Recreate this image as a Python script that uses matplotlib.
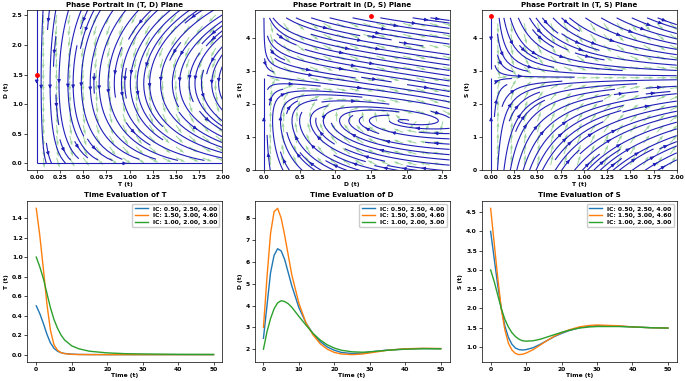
import matplotlib
matplotlib.use("Agg")
import matplotlib.pyplot as plt
import numpy as np

plt.rcParams["font.family"] = "DejaVu Sans"
plt.rcParams["font.weight"] = "bold"
plt.rcParams["axes.titleweight"] = "bold"
plt.rcParams["axes.labelweight"] = "bold"
plt.rcParams["font.size"] = 4.3
plt.rcParams["axes.linewidth"] = 0.5
plt.rcParams["xtick.major.width"] = 0.5
plt.rcParams["ytick.major.width"] = 0.5
plt.rcParams["xtick.major.size"] = 2
plt.rcParams["ytick.major.size"] = 2
plt.rcParams["xtick.major.pad"] = 1.5
plt.rcParams["ytick.major.pad"] = 1.5

# initial conditions (T0, D0, S0) and their legend labels
ic_labels = ["IC: 0.50, 2.50, 4.00", "IC: 1.50, 3.00, 4.60", "IC: 1.00, 2.00, 3.00"]
line_colors = ["#1f77b4", "#ff7f0e", "#2ca02c"]

# time series
t_T = [0, 1, 2, 3, 4, 5, 6, 7, 8, 10, 12, 15, 20, 25, 30, 40, 50]
T_blue = [0.5, 0.42, 0.32, 0.21, 0.12, 0.065, 0.035, 0.02, 0.012, 0.005, 0.002, 0.001, 0, 0, 0, 0, 0]
T_orange = [1.5, 1.22, 0.88, 0.52, 0.25, 0.1, 0.045, 0.02, 0.01, 0.003, 0.001, 0, 0, 0, 0, 0, 0]
T_green = [1.0, 0.9, 0.78, 0.63, 0.48, 0.36, 0.27, 0.2, 0.15, 0.09, 0.06, 0.035, 0.018, 0.01, 0.007, 0.003, 0.002]

t_D = [0, 1, 2, 3, 4, 5, 6, 7, 8, 10, 12, 14, 16, 18, 20, 22, 25, 28, 30, 35, 40, 45, 50]
D_blue = [2.5, 4.0, 5.5, 6.3, 6.6, 6.5, 6.1, 5.5, 4.9, 3.9, 3.2, 2.7, 2.35, 2.1, 1.95, 1.85, 1.8, 1.82, 1.87, 1.96, 2.01, 2.03, 2.02]
D_orange = [3.0, 5.3, 7.3, 8.3, 8.45, 8.0, 7.2, 6.3, 5.4, 4.1, 3.2, 2.65, 2.25, 2.0, 1.85, 1.78, 1.75, 1.78, 1.83, 1.95, 2.02, 2.04, 2.03]
D_green = [2.0, 2.8, 3.4, 3.85, 4.12, 4.22, 4.18, 4.08, 3.92, 3.5, 3.1, 2.72, 2.42, 2.2, 2.05, 1.95, 1.88, 1.86, 1.88, 1.95, 2.0, 2.02, 2.02]

t_S = [0, 1, 2, 3, 4, 5, 6, 7, 8, 9, 10, 12, 14, 16, 18, 20, 22, 25, 28, 30, 33, 36, 40, 45, 50]
S_blue = [4.0, 3.3, 2.6, 2.0, 1.55, 1.25, 1.07, 0.97, 0.93, 0.92, 0.93, 0.98, 1.07, 1.17, 1.27, 1.35, 1.42, 1.5, 1.54, 1.55, 1.55, 1.54, 1.52, 1.5, 1.49]
S_orange = [4.6, 3.7, 2.8, 2.0, 1.45, 1.1, 0.92, 0.83, 0.8, 0.81, 0.84, 0.93, 1.05, 1.17, 1.28, 1.37, 1.44, 1.52, 1.56, 1.57, 1.56, 1.55, 1.52, 1.5, 1.49]
S_green = [3.0, 2.7, 2.35, 2.0, 1.72, 1.52, 1.37, 1.27, 1.2, 1.16, 1.15, 1.16, 1.2, 1.26, 1.32, 1.38, 1.43, 1.49, 1.52, 1.53, 1.53, 1.53, 1.52, 1.5, 1.49]

# red marker in each phase plane
start_TD = (0.0, 1.5)
start_DS = (1.5, 4.65)
start_TS = (0.0, 4.65)


def td_field(T, D):
    return 0.35 * T * (1.35 - D), -0.6 * np.abs(D) ** 0.3


def ds_field(D, S):
    return 1.5 * D * (S - 1.5), 2.8 - S - 0.65 * D


def ts_field(T, S):
    return 0.9 * T, 2.8 - S


def phase(ax, field, xr, yr, start, title, xlabel, ylabel):
    x = np.linspace(xr[0], xr[1], 80)
    y = np.linspace(yr[0], yr[1], 80)
    X, Y = np.meshgrid(x, y)
    U, V = field(X, Y)
    ax.streamplot(X, Y, U, V, color="#2020b8", linewidth=0.8, density=1.0,
                  arrowsize=0.45)
    dx = (xr[1] - xr[0]) / 14
    dy = (yr[1] - yr[0]) / 14
    xq = np.linspace(xr[0] + dx / 2, xr[1] - dx / 2, 14)
    yq = np.linspace(yr[0] + dy / 2, yr[1] - dy / 2, 14)
    Xq, Yq = np.meshgrid(xq, yq)
    Uq, Vq = field(Xq, Yq)
    n = np.hypot(Uq, Vq)
    n[n == 0] = 1
    ax.quiver(Xq, Yq, Uq / n, Vq / n, color="#5cb85c", alpha=0.6,
              scale=19, width=0.005)
    ax.plot(*start, "o", color="red", markersize=2.5)
    ax.set_title(title, pad=2)
    ax.set_xlabel(xlabel, labelpad=1)
    ax.set_ylabel(ylabel, labelpad=2)


def series(ax, t, curves, title, ylabel):
    for ys, c, lab in zip(curves, line_colors, ic_labels):
        ax.plot(t, ys, color=c, linewidth=1.0, label=lab)
    ax.set_title(title, pad=3)
    ax.set_xlabel("Time (t)", labelpad=1)
    ax.set_ylabel(ylabel, labelpad=2)
    ax.legend(loc="upper right", fontsize=4.3, handlelength=2.2,
              borderpad=0.4, labelspacing=0.25, framealpha=1)
    ax.set_xticks([0, 10, 20, 30, 40, 50])


fig, axes = plt.subplots(2, 3, figsize=(6.85, 3.81), dpi=100)
fig.subplots_adjust(left=0.04, right=0.988, top=0.975, bottom=0.05,
                    wspace=0.165, hspace=0.19)

phase(axes[0, 0], td_field, (0, 2.0), (0, 2.6), start_TD,
      "Phase Portrait in (T, D) Plane", "T (t)", "D (t)")
axes[0, 0].set_xlim(-0.1, 2.0)
axes[0, 0].set_ylim(-0.12, 2.6)
axes[0, 0].set_xticks(np.arange(0, 2.01, 0.25))

phase(axes[0, 1], ds_field, (0, 2.6), (0, 4.6), start_DS,
      "Phase Portrait in (D, S) Plane", "D (t)", "S (t)")
axes[0, 1].set_xlim(-0.13, 2.6)
axes[0, 1].set_ylim(0, 4.85)

phase(axes[0, 2], ts_field, (0, 2.0), (0, 4.6), start_TS,
      "Phase Portrait in (T, S) Plane", "T (t)", "S (t)")
axes[0, 2].set_xlim(-0.1, 2.0)
axes[0, 2].set_ylim(0, 4.85)
axes[0, 2].set_xticks(np.arange(0, 2.01, 0.25))

series(axes[1, 0], t_T, [T_blue, T_orange, T_green], "Time Evaluation of T", "T (t)")
series(axes[1, 1], t_D, [D_blue, D_orange, D_green], "Time Evaluation of D", "D (t)")
series(axes[1, 2], t_S, [S_blue, S_orange, S_green], "Time Evaluation of S", "S (t)")

fig.savefig("out.png", dpi=100)
